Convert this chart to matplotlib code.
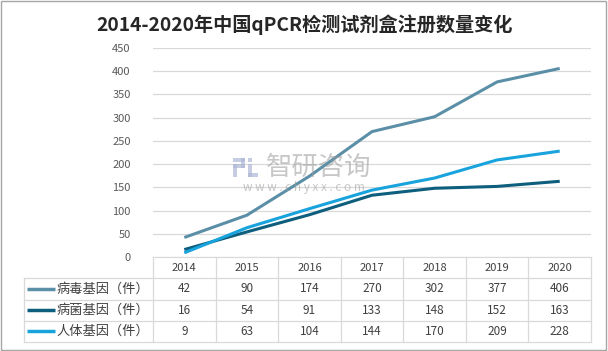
import matplotlib.pyplot as plt
from matplotlib.patches import Rectangle

plt.rcParams['font.family'] = ['Noto Sans CJK SC', 'DejaVu Sans']

years = ["2014", "2015", "2016", "2017", "2018", "2019", "2020"]
series_names = ["病毒基因（件）", "病菌基因（件）", "人体基因（件）"]
virus = [42, 90, 174, 270, 302, 377, 406]
bacteria = [16, 54, 91, 133, 148, 152, 163]
human = [9, 63, 104, 144, 170, 209, 228]
colors = ["#5B8FA7", "#0E5E7E", "#18A3DC"]

grid_c = "#D9D9D9"
text_c = "#595959"

W, H = 608, 351
fig = plt.figure(figsize=(W / 100, H / 100), dpi=100)
fig.patches.append(Rectangle((0.002, 0.004), 0.995, 0.992, transform=fig.transFigure,
                             fill=False, edgecolor="#A6A6A6", linewidth=1.0))

fig.text(0.5, 1 - 25 / H, "2014-2020年中国qPCR检测试剂盒注册数量变化", ha="center", va="center",
         fontsize=13.8, fontweight="bold", color="#262626")

# main plot area
left, right = 153 / W, 591 / W
bot, top = 1 - 257 / H, 1 - 48 / H
ax = fig.add_axes([left, bot, right - left, top - bot])
x = list(range(len(years)))
for vals, c in zip([virus, bacteria, human], colors):
    ax.plot(x, vals, color=c, linewidth=2.2, solid_capstyle="butt", zorder=3)
ax.set_xlim(-0.5, len(years) - 0.5)
ax.set_ylim(0, 450)
ax.set_yticks(range(0, 451, 50))
ax.yaxis.grid(True, color=grid_c, linewidth=0.9)
ax.set_axisbelow(True)
for s in ["top", "right", "left"]:
    ax.spines[s].set_visible(False)
ax.spines["bottom"].set_color(grid_c)
ax.tick_params(axis="y", length=0, labelsize=8, labelcolor=text_c, pad=16)
ax.tick_params(axis="x", length=0, labelbottom=False)

# watermark
wm = "#9A9A9A"
fig.text(319 / W, 1 - 167 / H, "智研咨询", ha="center", va="center", fontsize=19,
         color=wm, alpha=0.55)
fig.text(304 / W, 1 - 188 / H, "w w w . c h y x x . c o m", ha="center", va="center",
         fontsize=8.5, color=wm, alpha=0.55)
logo_c = "#AEB9D6"
for (lx, ly, lw, lh) in [(233, 158, 12, 4), (241, 158, 4, 10), (233, 164, 12, 4),
                         (233, 164, 4, 13), (248, 158, 4, 4), (248, 164, 4, 13),
                         (248, 173, 10, 4)]:
    fig.patches.append(Rectangle((lx / W, 1 - (ly + lh) / H), lw / W, lh / H,
                                 transform=fig.transFigure, color=logo_c, alpha=0.7,
                                 linewidth=0))

# data table
tleft = 24 / W
tbot = 1 - 342 / H
ttop = 1 - 257 / H
tax = fig.add_axes([tleft, tbot, right - tleft, ttop - tbot])
col_w = (right - left) * W / len(years)
label_cols = (left - tleft) * W / col_w
x0 = -0.5 - label_cols
tax.set_xlim(x0, len(years) - 0.5)
tax.set_ylim(4, 0)
tax.axis("off")

for i in range(len(years) + 1):
    tax.plot([i - 0.5, i - 0.5], [0, 4], color=grid_c, linewidth=0.9, clip_on=False)
tax.plot([x0, x0], [1, 4], color=grid_c, linewidth=0.9, clip_on=False)
for r in range(1, 5):
    tax.plot([x0, len(years) - 0.5], [r, r], color=grid_c, linewidth=0.9, clip_on=False)

for i, y in enumerate(years):
    tax.text(i, 0.5, y, ha="center", va="center", fontsize=8, color="#404040")

for r, (name, vals, c) in enumerate(zip(series_names, [virus, bacteria, human], colors), start=1):
    tax.plot([x0 + 0.05, x0 + 0.5], [r + 0.5, r + 0.5], color=c, linewidth=2.5,
             solid_capstyle="butt", clip_on=False)
    tax.text(x0 + 0.52, r + 0.5, name, ha="left", va="center", fontsize=9.5, color="#404040")
    for i, v in enumerate(vals):
        tax.text(i, r + 0.5, str(v), ha="center", va="center", fontsize=8.5, color="#404040")

fig.savefig("out.png", dpi=100)
